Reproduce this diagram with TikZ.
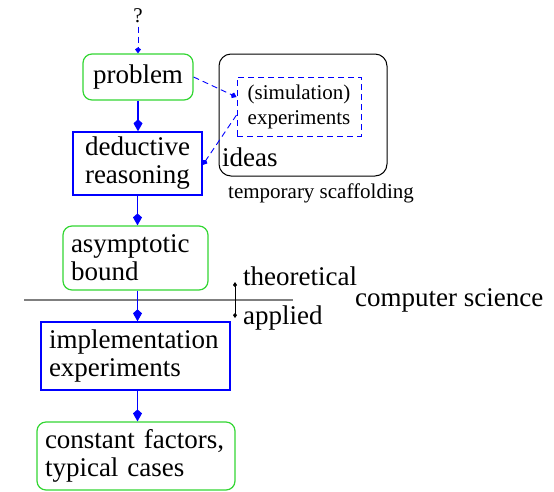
\documentclass[tikz,border=0pt]{standalone}
\usepackage{fontspec}
\setmainfont{Liberation Serif}
\usetikzlibrary{positioning,arrows.meta}
\definecolor{BoxGreen}{HTML}{33D633}
\definecolor{BoxBlue}{HTML}{0000FF}
\definecolor{RuleGray}{HTML}{7F7F7F}
\newcommand{\lgfont}{\fontsize{27}{28}\selectfont}
\newcommand{\smfont}{\fontsize{21}{25}\selectfont}

\begin{document}
\begin{tikzpicture}[x=1pt,y=-1pt,
      grn/.style={draw=BoxGreen,rounded corners=9pt,line width=1.2pt,font=\lgfont,inner sep=0pt},
      blu/.style={draw=BoxBlue,line width=1.4pt,font=\lgfont,inner sep=0pt},
      lft/.style={align=left,inner xsep=8pt},
      go/.style={-{Kite[length=12pt,width=9pt,inset=4pt]},BoxBlue,line width=1.2pt},
      dgo/.style={-{Kite[length=6pt,width=6pt,inset=2pt]},BoxBlue,line width=0.9pt,dash pattern=on 6pt off 4pt}]
    \useasboundingbox (0,0) rectangle (554,491);
    \node[font=\smfont] (q) at (138,16) {?};
    \node[grn,minimum width=110pt,minimum height=46pt] (prob) at (138,77) {problem};
    \node[blu,align=center,minimum width=129pt,minimum height=63pt] (ded) at (137.5,163.5) {deductive\\reasoning};
    \node[grn,lft,text width=129pt,minimum height=64pt] (asym) at (135.5,258) {asymptotic\\bound};
    \node[blu,lft,text width=173pt,minimum height=68pt] (impl) at (135.5,356) {implementation\\experiments};
    \node[grn,lft,text width=182pt,minimum height=68pt] (const) at (136,456) {constant factors,\\typical cases};
    % scaffolding box
    \node[draw,rounded corners=12pt,line width=1pt,minimum width=168pt,minimum height=122pt] (scaf) at (303,115) {};
    \node[draw,color=BoxBlue,text=black,dash pattern=on 6pt off 4pt,line width=1pt,font=\smfont,align=center,
          minimum width=124pt,minimum height=59pt,inner sep=0pt] (sim) at (299,106.5) {(simulation)\\experiments};
    \node[font=\lgfont,anchor=west,inner sep=0pt] (ideas) at (222,157) {ideas};
    \node[font=\smfont,inner sep=0pt] (temp) at (321,193) {temporary scaffolding};
    % theoretical / applied
    \draw[RuleGray,line width=1.2pt] (24,300) -- (293,300);
    \coordinate (up) at (235,282);
    \coordinate (dn) at (235,318);
    \draw[{Kite[length=5pt,width=4pt,inset=2pt]}-{Kite[length=5pt,width=4pt,inset=2pt]},line width=0.8pt] (up) -- (dn);
    \node[font=\lgfont,anchor=west,inner sep=0pt] (theo) at (243,276) {theoretical};
    \node[font=\lgfont,anchor=west,inner sep=0pt] (appl) at (243,318) {applied};
    \node[font=\lgfont,anchor=west,inner sep=0pt] (cs) at (355,300) {computer science};
    % main flow
    \draw[dgo] (q) -- (q |- prob.north);
    \draw[go] (prob.south) -- (prob.south |- ded.north);
    \draw[go] (ded.south) -- (ded.south |- asym.north);
    \draw[go] (ded.south |- asym.south) -- (ded.south |- impl.north);
    \draw[go] (ded.south |- impl.south) -- (ded.south |- const.north);
    \draw[dgo] (prob.east) -- ([yshift=9.5pt]sim.west);
    \draw[dgo] ([yshift=-8.5pt]sim.west) -- ([yshift=-1.5pt]ded.east);
  \end{tikzpicture}
\end{document}
